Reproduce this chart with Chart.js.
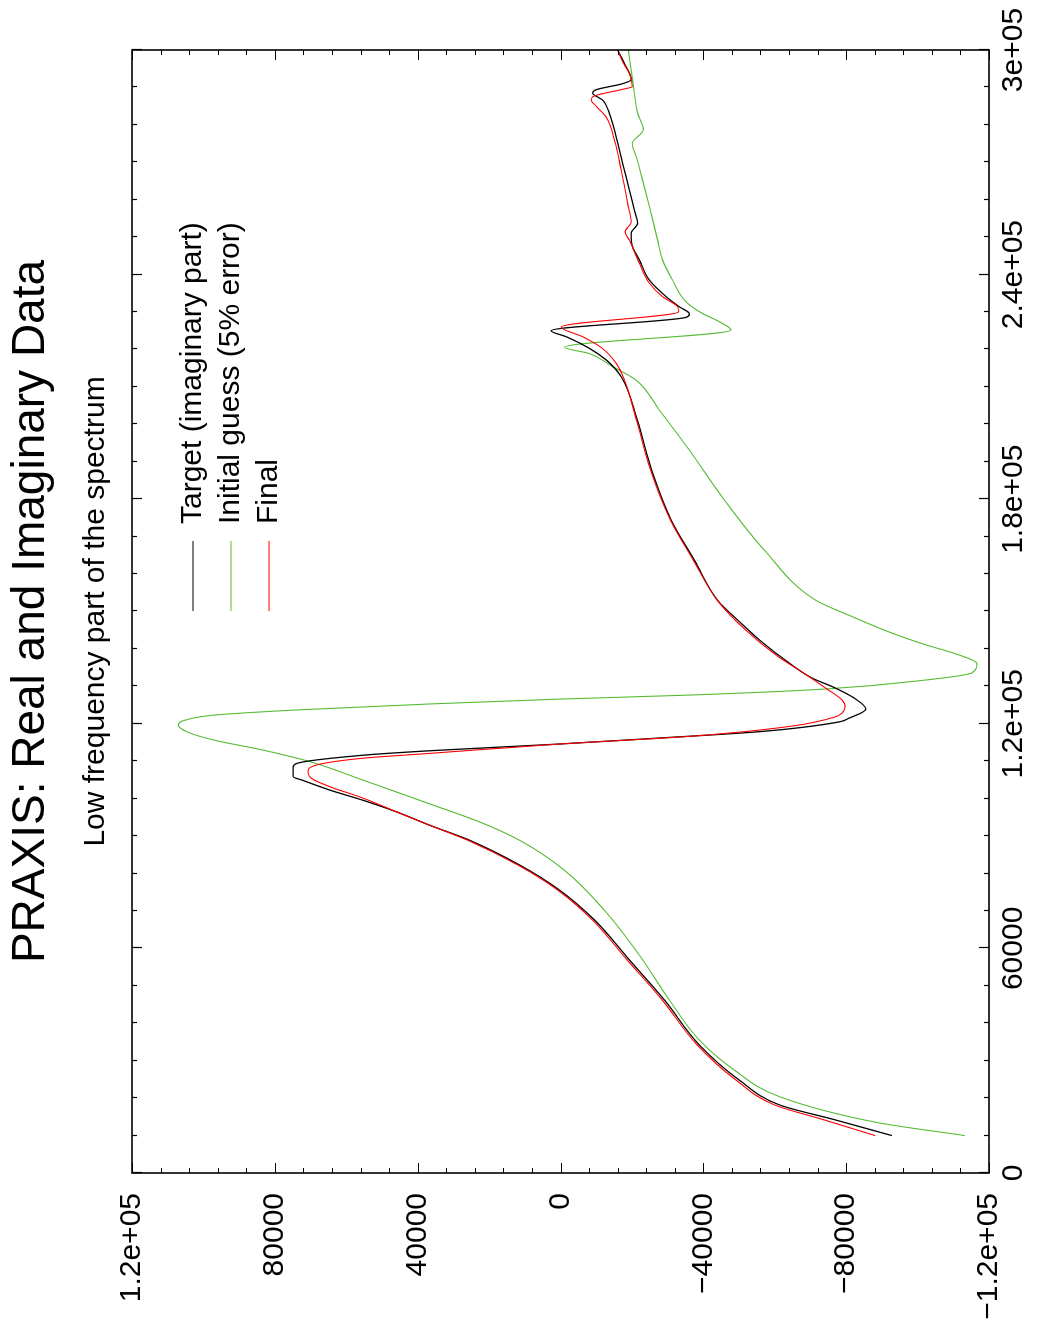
<!DOCTYPE html>
<html>
<head>
<meta charset="utf-8">
<script src="https://cdn.jsdelivr.net/npm/chart.js@4.4.0/dist/chart.umd.min.js"></script>
<style>
html, body { margin: 0; padding: 0; background: #fff; overflow: hidden; }
#wrap { position: absolute; left: 0; top: 0; width: 1327px; height: 1038px;
        transform-origin: 0 0; transform: translate(0, 1327px) rotate(-90deg); }
</style>
</head>
<body>
<div id="wrap"><canvas id="chart" width="1327" height="1038"></canvas></div>
<script>
// frequency axis ticks and value axis ticks
const xTickValues = [0, 60000, 120000, 180000, 240000, 300000];
const xTickLabels = ["0", "60000", "1.2e+05", "1.8e+05", "2.4e+05", "3e+05"];
const yTickValues = [-120000, -80000, -40000, 0, 40000, 80000, 120000];
const yTickLabels = ["\u22121.2e+05", "\u221280000", "\u221240000", "0", "40000", "80000", "1.2e+05"];

const seriesNames = ["Target (imaginary part)", "Initial guess (5% error)", "Final"];

// Target (imaginary part)
const targetFreq = [10000, 14200, 18200, 24800, 34200, 46200, 56900, 67600, 75600, 82300, 88900, 92900, 96500, 99600,
  102300, 104900, 105900, 108400, 109400, 111600, 112800, 114600, 116200, 117900, 120500, 121500, 123900, 126900,
  129500, 132200, 136200, 142400, 147300, 153000, 163700, 174400, 187800, 201100, 212700, 217200, 220300, 223400,
  225000, 228600, 229500, 231400, 234100, 238500, 243900, 247400, 251000, 253800, 257200, 262600, 269700, 276800,
  283000, 286600, 288500, 289400, 291000, 292100, 296400, 300000];
const targetImag = [-92800, -76900, -61300, -50100, -38900, -29100, -19300, -9500, 300, 11500, 25500, 36600, 46000, 55400,
  64600, 72200, 74900, 74900, 73900, 55400, 36600, 300, -27700, -55700, -78000, -80800, -85500, -82200,
  -77100, -70500, -64100, -55700, -50100, -44000, -37500, -31000, -25500, -21500, -17000, -12800, -8100, -1600,
  2600, -35200, -36100, -33300, -29600, -24900, -22100, -20200, -19800, -21600, -20700, -19300, -17400, -15600,
  -13700, -11800, -9000, -10000, -17400, -19800, -17900, -16000];

// Initial guess (5% error)
const guessFreq = [10000, 13400, 20400, 27500, 35500, 46200, 58200, 70200, 80900, 88900, 93800, 98600, 101800, 105000,
  109900, 113000, 115700, 117900, 119700, 120800, 122300, 123700, 125300, 126600, 127700, 129300, 131700, 133600,
  136100, 138400, 141100, 144200, 149000, 153000, 166400, 179800, 193100, 203800, 211800, 215400, 218900, 220600,
  225200, 227400, 229600, 232700, 238500, 243900, 249200, 258100, 265200, 271500, 275000, 278800, 283100, 291900, 300000];
const guessImag = [-113200, -89200, -61300, -48700, -38900, -30500, -22100, -12300, -1100, 11500, 22700, 36600, 46000, 55400,
  70200, 83400, 97300, 104700, 107000, 105700, 97300, 73900, 36600, 300, -36900, -74300, -102300, -115200,
  -116600, -111600, -102300, -92900, -80800, -71500, -57100, -45900, -36100, -27700, -21200, -14600, -8100, -1100,
  -47700, -44500, -39800, -35200, -31400, -28600, -27200, -24900, -23000, -21200, -20100, -23200, -21600, -20200, -19000];

// Final
const finalFreq = [10000, 14200, 18200, 24800, 34200, 46200, 56900, 67600, 75600, 82300, 88900, 92900, 96500, 100200,
  103200, 105400, 107200, 109000, 110800, 112100, 114600, 116700, 119400, 121900, 122900, 124700, 126300, 129500,
  132600, 138400, 145000, 153000, 163700, 174400, 187800, 201100, 211800, 216300, 220500, 223400, 226000, 230100,
  231400, 234100, 237700, 243000, 249200, 251400, 254100, 259000, 267900, 275900, 282100, 285000, 286600, 287500,
  289500, 290200, 293700, 296800, 300000];
const finalImag = [-88100, -73800, -59900, -49200, -38300, -28500, -18700, -8950, 800, 12000, 26000, 36600, 46000, 55400,
  64600, 69700, 70700, 68300, 55400, 36600, 300, -36900, -64900, -77100, -78900, -79700, -78900, -74300,
  -69600, -60300, -51900, -43900, -37200, -30800, -25200, -21300, -17900, -15600, -11400, -6200, -200, -33100,
  -32800, -28600, -24900, -22100, -19300, -18100, -19800, -18800, -17000, -15100, -12800, -10000, -8600, -9000,
  -17400, -20100, -19300, -17400, -16000];

const toPoints = (xs, ys) => xs.map((x, i) => ({ x: x, y: ys[i] }));

const FONT = "'Liberation Sans', Arial, Helvetica, sans-serif";
Chart.defaults.font.family = FONT;
Chart.defaults.color = "#000";

// inward tick marks on all four sides, the frame, and the in-plot legend
const frameAndLegend = {
  id: "frameAndLegend",
  afterDraw(chart) {
    const ctx = chart.ctx;
    const a = chart.chartArea;
    const x = chart.scales.x, y = chart.scales.y;
    ctx.save();
    ctx.strokeStyle = "#000";
    ctx.lineWidth = 1.2;
    ctx.beginPath();
    for (let v = 0; v <= 300000; v += 10000) {
      const px = Math.round(x.getPixelForValue(v)) + 0.5;
      const len = v % 60000 === 0 ? 10 : 5;
      ctx.moveTo(px, a.bottom); ctx.lineTo(px, a.bottom - len);
      ctx.moveTo(px, a.top); ctx.lineTo(px, a.top + len);
    }
    for (let v = -120000; v <= 120000; v += 8000) {
      const py = Math.round(y.getPixelForValue(v)) + 0.5;
      const len = v % 40000 === 0 ? 10 : 5;
      ctx.moveTo(a.left, py); ctx.lineTo(a.left + len, py);
      ctx.moveTo(a.right, py); ctx.lineTo(a.right - len, py);
    }
    ctx.stroke();
    ctx.lineWidth = 1.6;
    ctx.strokeRect(a.left, a.top, a.right - a.left, a.bottom - a.top);

    // legend
    ctx.font = "30px " + FONT;
    ctx.textBaseline = "middle";
    ctx.fillStyle = "#000";
    chart.data.datasets.forEach((ds, i) => {
      const ly = 193 + i * 38;
      ctx.strokeStyle = ds.borderColor;
      ctx.lineWidth = 1.2;
      ctx.beginPath();
      ctx.moveTo(716, ly);
      ctx.lineTo(786, ly);
      ctx.stroke();
      ctx.fillText(ds.label, 803, ly);
    });
    ctx.restore();
  }
};

new Chart(document.getElementById("chart"), {
  type: "line",
  data: {
    datasets: [
      { label: seriesNames[0], data: toPoints(targetFreq, targetImag), borderColor: "#000000", borderWidth: 1.3, order: 1 },
      { label: seriesNames[1], data: toPoints(guessFreq, guessImag), borderColor: "#55bb33", borderWidth: 1.1, order: 2 },
      { label: seriesNames[2], data: toPoints(finalFreq, finalImag), borderColor: "#ff0000", borderWidth: 1.1, order: 0 }
    ]
  },
  options: {
    responsive: false,
    devicePixelRatio: 1,
    animation: false,
    layout: { padding: { left: 0, right: 50, top: 0, bottom: 0 } },
    elements: {
      point: { radius: 0 },
      line: { cubicInterpolationMode: "monotone", fill: false }
    },
    plugins: {
      legend: { display: false },
      tooltip: { enabled: false },
      title: {
        display: true,
        fullSize: false,
        text: "PRAXIS: Real and Imaginary Data",
        font: { size: 46, weight: "normal" },
        color: "#000",
        padding: { top: 4, bottom: 0 }
      },
      subtitle: {
        display: true,
        fullSize: false,
        text: "Low frequency part of the spectrum",
        font: { size: 30, weight: "normal" },
        color: "#000",
        padding: { top: 18.8, bottom: 18 }
      }
    },
    scales: {
      x: {
        type: "linear",
        min: 0,
        max: 300000,
        grid: { display: false, drawTicks: false },
        border: { display: false },
        afterBuildTicks: (s) => { s.ticks = xTickValues.map(v => ({ value: v })); },
        afterFit: (s) => { s.height = 49; },
        ticks: {
          font: { size: 30 },
          padding: 7,
          maxRotation: 0,
          autoSkip: false,
          callback: (v) => xTickLabels[xTickValues.indexOf(v)]
        }
      },
      y: {
        type: "linear",
        min: -120000,
        max: 120000,
        grid: { display: false, drawTicks: false },
        border: { display: false },
        afterBuildTicks: (s) => { s.ticks = yTickValues.map(v => ({ value: v })); },
        afterFit: (s) => { s.width = 154; },
        ticks: {
          font: { size: 30 },
          padding: 20,
          autoSkip: false,
          callback: (v) => yTickLabels[yTickValues.indexOf(v)]
        }
      }
    }
  },
  plugins: [frameAndLegend]
});
</script>
</body>
</html>
